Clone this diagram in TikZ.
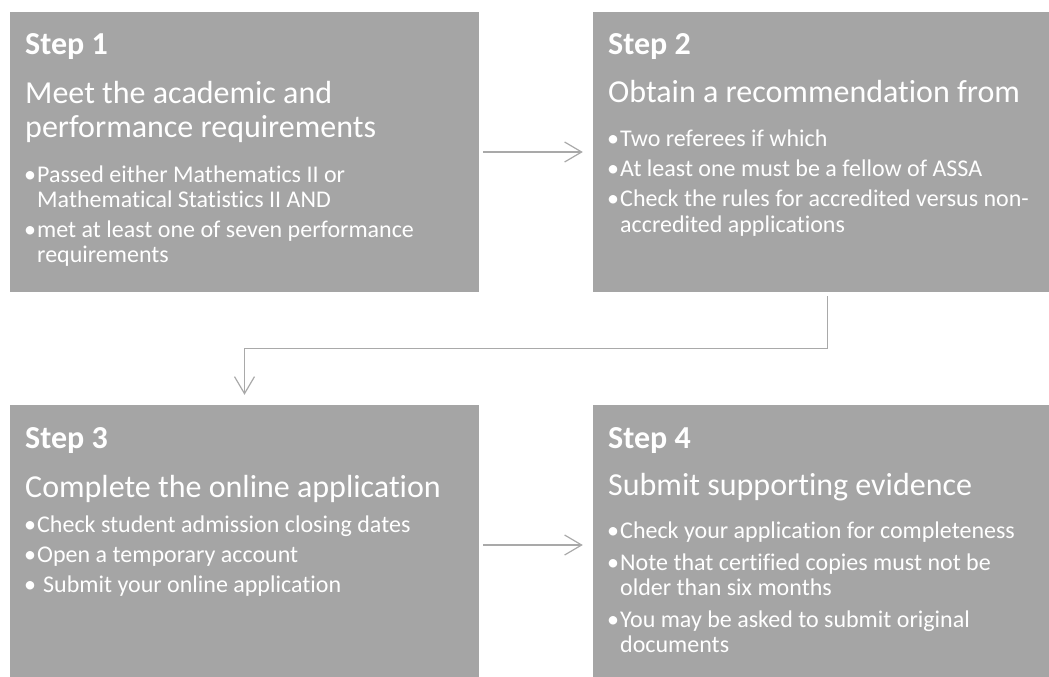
\documentclass[tikz,border=0pt]{standalone}
\usepackage{fontspec}
\setmainfont[Ligatures={NoCommon}]{Carlito}
\usetikzlibrary{calc}
\usetikzlibrary{arrows.meta}
\definecolor{boxgray}{HTML}{A5A5A5}
\definecolor{linkgray}{HTML}{A9A9A9}

\tikzset{
	stepbox/.style={fill=boxgray,minimum width=469pt,minimum height=280pt,inner sep=0pt},
	steplbl/.style={anchor=base west,inner sep=0pt,text=white,font=\fontsize{32}{34}\selectfont\bfseries},
	headln/.style={anchor=base west,inner sep=0pt,text=white,font=\fontsize{32}{34}\selectfont},
	itemln/.style={anchor=base west,inner sep=0pt,text=white,font=\fontsize{24}{25}\selectfont},
	bul/.style={anchor=base,inner sep=0pt,text=white,font=\fontsize{24}{25}\selectfont},
	link/.style={draw=linkgray,line width=1.2pt,-{Straight Barb[length=17pt,width=20pt,line width=1.2pt]}}
}

\begin{document}
\begin{tikzpicture}[x=1pt,y=-1pt]
	\useasboundingbox (0,0) rectangle (1049,677);
	
	%boxes
	\node[stepbox] (b1) at (244.5,152) {};
	\node[stepbox] (b2) at (827.5,152) {};
	\node[stepbox] (b3) at (244.5,545) {};
	\node[stepbox] (b4) at (827.5,545) {};
	
	%step 1
	\node[steplbl] (s1)  at (25,55)  {Step 1};
	\node[headln]  (h1a) at (25,103) {Meet the academic and};
	\node[headln]  (h1b) at (25,137) {performance requirements};
	\node[bul]     (p1a) at (30,182) {•};
	\node[itemln]  (i1a) at (37,182) {Passed either Mathematics II or};
	\node[itemln]  (i1b) at (37,207) {Mathematical Statistics II AND};
	\node[bul]     (p1b) at (30,237) {•};
	\node[itemln]  (i1c) at (37,237) {met at least one of seven performance};
	\node[itemln]  (i1d) at (37,262) {requirements};
	
	%step 2
	\node[steplbl] (s2)  at (608,55)  {Step 2};
	\node[headln]  (h2a) at (608,102) {Obtain a recommendation from};
	\node[bul]     (p2a) at (613,146) {•};
	\node[itemln]  (i2a) at (620,146) {Two referees if which};
	\node[bul]     (p2b) at (613,176) {•};
	\node[itemln]  (i2b) at (620,176) {At least one must be a fellow of ASSA};
	\node[bul]     (p2c) at (613,206) {•};
	\node[itemln]  (i2c) at (620,206) {Check the rules for accredited versus non-};
	\node[itemln]  (i2d) at (620,232) {accredited applications};
	
	%step 3
	\node[steplbl] (s3)  at (25,448) {Step 3};
	\node[headln]  (h3a) at (25,497) {Complete the online application};
	\node[bul]     (p3a) at (30,532) {•};
	\node[itemln]  (i3a) at (37,532) {Check student admission closing dates};
	\node[bul]     (p3b) at (30,562) {•};
	\node[itemln]  (i3b) at (37,562) {Open a temporary account};
	\node[bul]     (p3c) at (30,592) {•};
	\node[itemln]  (i3c) at (43,592) {Submit your online application};
	
	%step 4
	\node[steplbl] (s4)  at (608,448) {Step 4};
	\node[headln]  (h4a) at (608,495) {Submit supporting evidence};
	\node[bul]     (p4a) at (613,538) {•};
	\node[itemln]  (i4a) at (620,538) {Check your application for completeness};
	\node[bul]     (p4b) at (613,570) {•};
	\node[itemln]  (i4b) at (620,570) {Note that certified copies must not be};
	\node[itemln]  (i4c) at (620,595) {older than six months};
	\node[bul]     (p4c) at (613,627) {•};
	\node[itemln]  (i4d) at (620,627) {You may be asked to submit original};
	\node[itemln]  (i4e) at (620,652) {documents};
	
	%arrows
	\draw[link,shorten <=4pt,shorten >=10pt] (b1.east)--(b2.west);
	\draw[link,shorten <=4pt,shorten >=10pt] (b2.south) |- ($(b2.south)!.5!(b3.north)$) -| (b3.north);
	\draw[link,shorten <=4pt,shorten >=10pt] (b3.east)--(b4.west);
\end{tikzpicture}
\end{document}
